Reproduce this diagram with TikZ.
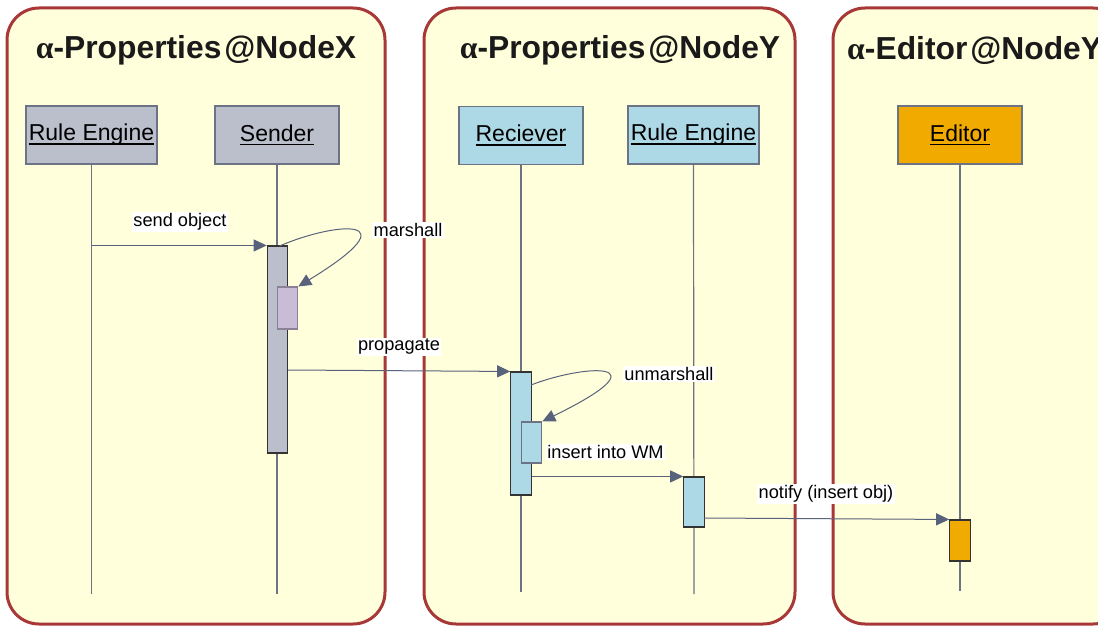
\documentclass[tikz,border=0pt]{standalone}
\usepackage{fontspec}
\setmainfont{Liberation Sans}
\newfontfamily\greekfont{Liberation Serif}
\usetikzlibrary{arrows.meta}

\definecolor{panelfill}{HTML}{FFFFDC}
\definecolor{paneledge}{HTML}{A83838}
\definecolor{headgray}{HTML}{BBBECB}
\definecolor{headblue}{HTML}{ADD8E6}
\definecolor{headorange}{HTML}{F0AA00}
\definecolor{marshfill}{HTML}{C8BCD6}
\definecolor{marshedge}{HTML}{8C8099}
\definecolor{lifeline}{HTML}{6B7385}
\definecolor{msgcol}{HTML}{58627A}
\definecolor{inkcol}{HTML}{1A1A1A}

% underline at a fixed depth below the baseline
\newcommand\ulabel[1]{\setbox0\hbox{#1}\rlap{\vrule height -2.2pt depth 3.8pt width \wd0}\box0}

\begin{document}
\begin{tikzpicture}[x=1pt,y=-1pt,
  panel/.style={draw=paneledge, line width=3pt, fill=panelfill, rounded corners=32pt},
  title/.style={font=\fontsize{31.8}{38}\selectfont\bfseries, text=inkcol, inner sep=0pt},
  head/.style={draw=lifeline, line width=1.4pt, minimum height=58pt, inner sep=0pt,
    font=\fontsize{23}{28}\selectfont, text=black},
  life/.style={draw=lifeline, line width=1.2pt},
  act/.style={draw=black!80, line width=1.1pt, minimum width=20.5pt, inner sep=0pt},
  msg/.style={draw=msgcol, line width=1pt, -{Triangle[length=13pt,width=12pt]}},
  lbl/.style={fill=white, inner sep=1.5pt, font=\fontsize{18.2}{22}\selectfont, text=black}]

\clip (0,0) rectangle (1098,626);

% swimlane panels
\path[panel] (7,8) rectangle (385,624);
\path[panel] (424,8) rectangle (795,624);
\path[panel] (833,8) rectangle (1125,624);

% panel titles
\node[title] (t1) at (196,50) {{\greekfont α}-Properties\kern3pt@NodeX};
\node[title] (t2) at (620,50) {{\greekfont α}-Properties\kern3pt@NodeY};
\node[title, anchor=west] (t3) at (847,50) {{\greekfont α}-Editor\kern3pt@NodeY};

% lifeline heads
\node[head, fill=headgray, minimum width=131pt] (reX) at (91.5,135) {\ulabel{Rule Engine}};
\node[head, fill=headgray, minimum width=124pt] (snd) at (277,135) {\ulabel{Sender}};
\node[head, fill=headblue, minimum width=124pt] (rcv) at (521,135.5) {\ulabel{Reciever}};
\node[head, fill=headblue, minimum width=131pt] (reY) at (693.5,135) {\ulabel{Rule Engine}};
\node[head, fill=headorange, minimum width=124pt] (edt) at (960,135) {\ulabel{Editor}};

% lifelines
\coordinate (reXend) at (91.5,594);
\coordinate (sndend) at (277,594);
\coordinate (rcvend) at (521,592);
\coordinate (reYend) at (694,594);
\coordinate (edtend) at (960,591);
\draw[life] (reX.south) -- (reXend);
\draw[life] (snd.south) -- (sndend);
\draw[life] (rcv.south) -- (rcvend);
\draw[life] (reY.south) -- (reYend);
\draw[life] (edt.south) -- (edtend);

% activation bars
\node[act, fill=headgray, minimum height=207pt] (actS) at (277.5,349.5) {};
\node[act, draw=marshedge, fill=marshfill, minimum height=42pt] (marS) at (287.5,308) {};
\node[act, fill=headblue, minimum height=123pt] (actR) at (521,433.5) {};
\node[act, draw=lifeline, fill=headblue, minimum height=41pt] (unmR) at (531.5,442.5) {};
\node[act, fill=headblue, minimum height=50pt] (actE) at (694,502) {};
\node[act, fill=headorange, minimum height=41pt] (actEd) at (960,540.5) {};

% messages
\draw[msg] (reX.south |- actS.north) -- (actS.north west);
\coordinate (mar0) at (279.5,246);
\draw[msg] (mar0) .. controls (335,222) and (415,215) .. (marS.north east);
\coordinate (prop0) at (288,370);
\draw[msg] (prop0) -- (actR.north west);
\coordinate (unm0) at (531,385);
\draw[msg] (unm0) .. controls (585,364) and (668,360) .. (unmR.north east);
\draw[msg] (actR.east |- actE.north) -- (actE.north west);
\coordinate (not0) at (704,518);
\draw[msg] (not0) -- (actEd.north west);

% message labels
\node[lbl] (lsend) at (180,222) {send object};
\node[lbl] (lmar) at (408,230) {marshall};
\node[lbl] (lprop) at (399,347) {propagate};
\node[lbl] (lunm) at (669,374) {unmarshall};
\node[lbl] (lins) at (605.5,452) {insert into WM};
\node[lbl] (lnot) at (826,494) {notify (insert obj)};
\end{tikzpicture}
\end{document}
